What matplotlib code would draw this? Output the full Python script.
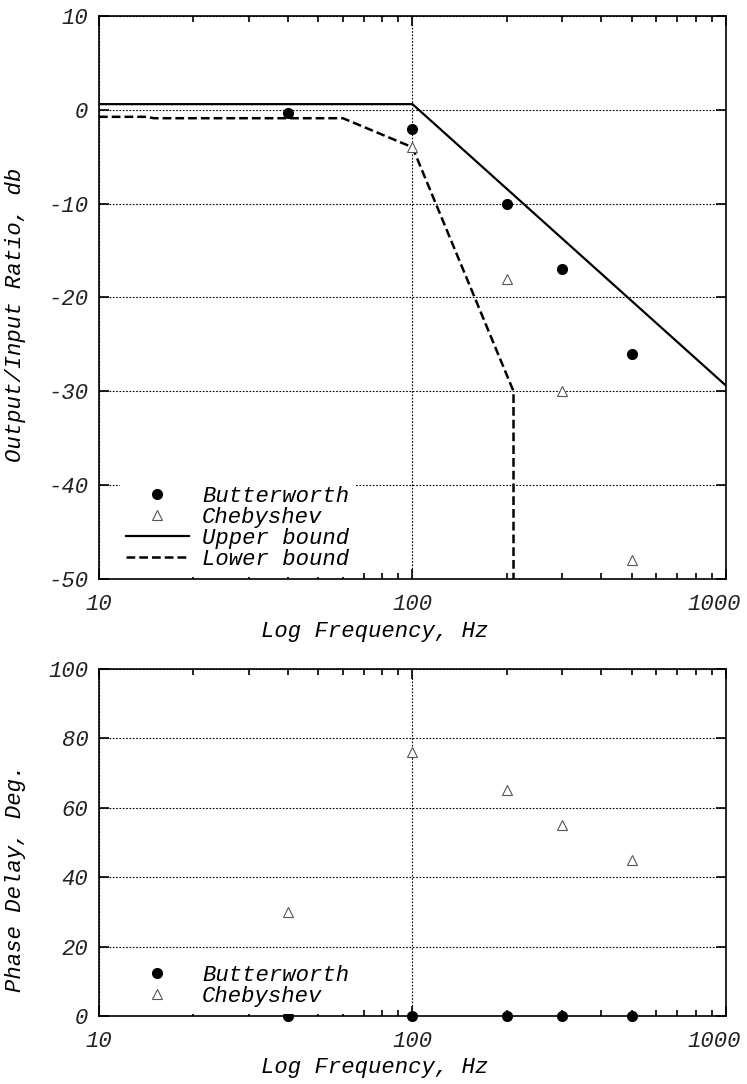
import numpy as np
import matplotlib
matplotlib.use("Agg")
from matplotlib import pyplot as plt
from matplotlib.ticker import FixedLocator, LogLocator, NullFormatter

plt.rcParams['font.family'] = ['Liberation Mono', 'DejaVu Sans Mono']
plt.rcParams['font.style'] = 'italic'
plt.rcParams['font.size'] = 16
plt.rcParams['axes.unicode_minus'] = False

# measured points
freq = [40, 100, 200, 300, 500]
butter_db = [-0.3, -2, -10, -17, -26]
cheby_freq = [100, 200, 300, 500]
cheby_db = [-4, -18, -30, -48]

# spec bounds
upper_f = [10, 100, 1000]
upper_db = [0.6, 0.6, -29.4]
lower_f = [10, 14, 15, 60, 100, 210, 210]
lower_db = [-0.75, -0.75, -0.9, -0.9, -4, -30, -50]

# phase delay
butter_phase = [0, 0, 0, 0, 0]
cheby_phase = [30, 76, 65, 55, 45]

xticks = [10, 100, 1000]
xticklabels = ['10', '100', '1000']

fig = plt.figure(figsize=(7.47, 10.84), dpi=100)
ax1 = fig.add_axes([0.1325, 0.4659, 0.8394, 0.5194])
ax2 = fig.add_axes([0.1325, 0.0627, 0.8394, 0.3201])

dot = dict(ls='none', marker='o', ms=7, color='black', clip_on=False, zorder=4)
tri = dict(ls='none', marker='^', ms=7.5, mfc='white', mec='#555555', mew=0.8, clip_on=False, zorder=4)
leg_kw = dict(loc='lower left', borderaxespad=0, borderpad=0.3, handlelength=2.8,
              handletextpad=0.6, labelspacing=0.0, numpoints=1, frameon=True, fancybox=False,
              framealpha=1, edgecolor='none', facecolor='white')


def style(ax, yticks):
    ax.set_xscale('log')
    ax.set_xlim(xticks[0], xticks[-1])
    ax.xaxis.set_major_locator(FixedLocator(xticks))
    ax.xaxis.set_minor_locator(LogLocator(base=10, subs=np.arange(2, 10)))
    ax.xaxis.set_minor_formatter(NullFormatter())
    # last label is drawn separately, shifted left so it stays inside the figure
    ax.set_xticklabels(xticklabels[:-1] + [''])
    ax.annotate(xticklabels[-1], xy=(xticks[-1], 0), xycoords=('data', 'axes fraction'),
                xytext=(10.8, -10.5), textcoords='offset points', ha='right', va='top',
                color='#222222', annotation_clip=False)
    ax.set_yticks(yticks)
    ax.set_ylim(yticks[0], yticks[-1])
    ax.tick_params(which='both', direction='in', top=True, right=True, colors='black', labelcolor='#222222')
    ax.tick_params(which='major', length=7, width=1.2)
    ax.tick_params(which='minor', length=4, width=1.2)
    ax.tick_params(axis='y', pad=7.5)
    ax.tick_params(axis='x', pad=10.5)
    for s in ax.spines.values():
        s.set_linewidth(1.2)
    ax.grid(True, which='major', ls=(0, (1.5, 1.5)), color='black', lw=0.8)
    ax.set_axisbelow(True)


style(ax1, [-50, -40, -30, -20, -10, 0, 10])
ax1.plot(freq, butter_db, label='Butterworth', **dot)
ax1.plot(cheby_freq, cheby_db, label='Chebyshev', **tri)
ax1.plot(upper_f, upper_db, color='black', lw=1.6, label='Upper bound', zorder=3)
ax1.plot(lower_f, lower_db, color='black', lw=1.8, ls=(0, (3.5, 1.6)), label='Lower bound', zorder=3)
ax1.set_xlabel('Log Frequency, Hz')
ax1.xaxis.set_label_coords(0.44, -0.075)
ax1.set_ylabel('Output/Input Ratio, db')
ax1.yaxis.set_label_coords(-0.116, 0.469)
ax1.legend(bbox_to_anchor=(0.033, 0.004), **leg_kw)

style(ax2, [0, 20, 40, 60, 80, 100])
ax2.plot(freq, butter_phase, label='Butterworth', **dot)
ax2.plot(freq, cheby_phase, label='Chebyshev', **tri)
ax2.set_xlabel('Log Frequency, Hz')
ax2.xaxis.set_label_coords(0.44, -0.118)
ax2.set_ylabel('Phase Delay, Deg.')
ax2.yaxis.set_label_coords(-0.116, 0.398)
ax2.legend(bbox_to_anchor=(0.033, 0.007), **leg_kw)

fig.savefig('out.png', dpi=100)
